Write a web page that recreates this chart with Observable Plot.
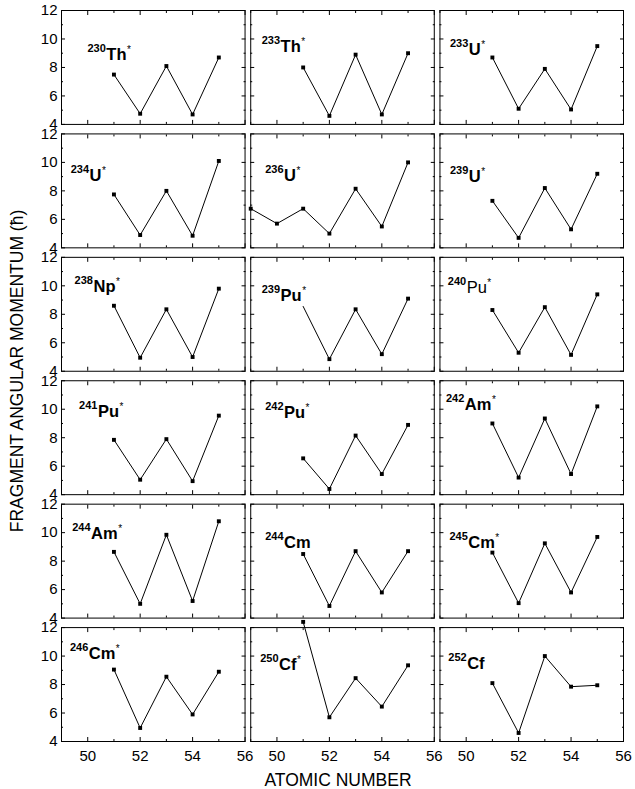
<!DOCTYPE html>
<html>
<head>
<meta charset="utf-8">
<script src="https://cdn.jsdelivr.net/npm/d3@7"></script>
<script src="https://cdn.jsdelivr.net/npm/@observablehq/plot@0.6"></script>
<style>
  html, body { margin: 0; padding: 0; background: #fff; }
  #chart { width: 635px; height: 789px; }
</style>
</head>
<body>
<div id="chart"></div>
<script>
// ---- data ----
const nuclideMass   = [230, 233, 233, 234, 236, 239, 238, 239, 240, 241, 242, 242, 244, 244, 245, 246, 250, 252];
const nuclideSymbol = ["Th","Th","U","U","U","U","Np","Pu","Pu","Pu","Pu","Am","Am","Cm","Cm","Cm","Cf","Cf"];
const excited       = [1,1,1,1,1,1,1,1,1,1,1,1,1,0,1,1,1,0];
const symbolBold    = [1,1,1,1,1,1,1,1,0,1,1,1,1,1,1,1,1,1];

const atomicNumbers     = [51, 52, 53, 54, 55];
const atomicNumbersU236 = [49, 50, 51, 52, 53, 54, 55];

const th230 = [7.5, 4.75, 8.1, 4.7, 8.7];
const th233 = [8.0, 4.6, 8.9, 4.7, 9.0];
const u233  = [8.7, 5.1, 7.9, 5.05, 9.5];
const u234  = [7.75, 4.9, 8.0, 4.85, 10.1];
const u236  = [6.75, 5.7, 6.75, 5.0, 8.15, 5.5, 10.0];
const u239  = [7.3, 4.7, 8.2, 5.3, 9.2];
const np238 = [8.6, 4.95, 8.35, 5.0, 9.8];
const pu239 = [8.55, 4.85, 8.35, 5.2, 9.1];
const pu240 = [8.3, 5.3, 8.5, 5.15, 9.4];
const pu241 = [7.85, 5.05, 7.9, 4.95, 9.55];
const pu242 = [6.55, 4.4, 8.15, 5.45, 8.9];
const am242 = [9.0, 5.2, 9.35, 5.45, 10.2];
const am244 = [8.65, 5.0, 9.85, 5.2, 10.8];
const cm244 = [8.5, 4.85, 8.7, 5.8, 8.7];
const cm245 = [8.6, 5.05, 9.25, 5.8, 9.7];
const cm246 = [9.05, 4.95, 8.55, 5.9, 8.9];
const cf250 = [12.4, 5.7, 8.45, 6.45, 9.35];
const cf252 = [8.1, 4.6, 10.0, 7.85, 7.95];

const panelValues = [th230, th233, u233, u234, u236, u239, np238, pu239, pu240,
                     pu241, pu242, am242, am244, cm244, cm245, cm246, cf250, cf252];
const panelZ = panelValues.map((v, i) => i === 4 ? atomicNumbersU236 : atomicNumbers);

// points drawn without a marker (panel index, atomic number)
const unmarked = [[7, 51]];

// label anchor (atomic number, momentum) in each panel
const labelZ = [49.99, 49.42, 49.38, 49.35, 49.55, 49.38, 49.5, 49.42, 49.3, 49.67, 49.55, 49.23, 49.41, 49.55, 49.36, 49.32, 49.36, 49.32];
const labelJ = [8.84, 9.43, 9.19, 9.05, 9.0, 8.93, 9.87, 9.28, 9.85, 9.82, 9.73, 10.25, 9.87, 9.28, 9.28, 10.15, 9.33, 9.45];

const yMajor = [4, 6, 8, 10, 12];
const yMinor = [5, 7, 9, 11];
const xMajor = [50, 52, 54, 56];
const xMinor = [49, 51, 53, 55];

// ---- tables ----
const points = [];
panelValues.forEach((vals, p) => {
  vals.forEach((v, k) => {
    const z = panelZ[p][k];
    points.push({panel: p, col: p % 3, row: Math.floor(p / 3), z, j: v,
                 marked: !unmarked.some(([pp, zz]) => pp === p && zz === z)});
  });
});
const labels = nuclideMass.map((m, p) => ({
  col: p % 3, row: Math.floor(p / 3), x: labelZ[p], y: labelJ[p],
  text: `${m}|${nuclideSymbol[p]}|${excited[p] ? "*" : ""}|${symbolBold[p]}`
}));

const tickStyle = {stroke: "black", fill: "none", facetAnchor: null};

const svg = Plot.plot({
  width: 635,
  height: 789,
  marginTop: 10,
  marginRight: 12,
  marginBottom: 48,
  marginLeft: 61,
  facet: {marginTop: 0, marginRight: 0, marginBottom: 0, marginLeft: 0},
  style: {fontFamily: "'Liberation Sans', Arial, sans-serif", fontSize: "15px", color: "black", background: "white", overflow: "visible"},
  x: {domain: [49, 56], axis: null},
  y: {domain: [4, 12], axis: null},
  fx: {domain: [0, 1, 2], paddingInner: 0.03, paddingOuter: 0, round: false, axis: null},
  fy: {domain: [0, 1, 2, 3, 4, 5], paddingInner: 0.077, paddingOuter: 0, round: false, axis: null},
  marks: [
    Plot.frame({stroke: "black", strokeWidth: 1}),
    // inward ticks on all four sides
    Plot.axisY({anchor: "left", ticks: yMajor, tickSize: 4, dx: 4, ...tickStyle}),
    Plot.axisY({anchor: "left", ticks: yMinor, tickSize: 2, dx: 2, ...tickStyle}),
    Plot.axisY({anchor: "right", ticks: yMajor, tickSize: 4, dx: -4, ...tickStyle}),
    Plot.axisY({anchor: "right", ticks: yMinor, tickSize: 2, dx: -2, ...tickStyle}),
    Plot.axisX({anchor: "bottom", ticks: xMajor, tickSize: 4, dy: -4, ...tickStyle}),
    Plot.axisX({anchor: "bottom", ticks: xMinor, tickSize: 2, dy: -2, ...tickStyle}),
    Plot.axisX({anchor: "top", ticks: xMajor, tickSize: 4, dy: 4, ...tickStyle}),
    Plot.axisX({anchor: "top", ticks: xMinor, tickSize: 2, dy: 2, ...tickStyle}),
    // tick labels on outer panels
    Plot.axisY({anchor: "left", ticks: yMajor, tickSize: 0, tickPadding: 4, fontSize: 15, tickFormat: d3.format("d"), label: null}),
    Plot.axisX({anchor: "bottom", ticks: xMajor, tickSize: 0, tickPadding: 9, fontSize: 15, tickFormat: d3.format("d"), label: null}),
    // data
    Plot.line(points, {x: "z", y: "j", fx: "col", fy: "row", z: "panel", stroke: "black", strokeWidth: 1}),
    Plot.dot(points.filter(d => d.marked), {x: "z", y: "j", fx: "col", fy: "row", symbol: "square", r: 2.2, fill: "black", stroke: "none"}),
    Plot.text(labels, {x: "x", y: "y", fx: "col", fy: "row", text: "text", textAnchor: "start", fill: "black"})
  ]
});

document.getElementById("chart").appendChild(svg);

// rich nuclide labels: superscript mass number, symbol, superscript star
d3.select(svg).selectAll("text")
  .filter(function () { return this.textContent.includes("|"); })
  .each(function () {
    const [mass, sym, star, bold] = this.textContent.split("|");
    const t = d3.select(this);
    t.attr("dy", null).text(null);
    t.append("tspan").attr("font-size", 11).attr("font-weight", "bold").attr("dy", -8).text(mass);
    t.append("tspan").attr("font-size", 16.5).attr("font-weight", bold === "1" ? "bold" : "normal")
      .attr("dy", 8).attr("dx", 0.5).text(sym);
    if (star) t.append("tspan").attr("font-size", 10).attr("dy", -7).attr("dx", 0.5).text("*");
  });

// axis titles
const s = d3.select(svg);
s.append("text").attr("x", 338).attr("y", 786).attr("text-anchor", "middle")
  .attr("font-size", 17.5).attr("fill", "black").text("ATOMIC NUMBER");
s.append("text").attr("transform", "translate(23,371) rotate(-90)").attr("text-anchor", "middle")
  .attr("font-size", 17.5).attr("fill", "black").text("FRAGMENT ANGULAR MOMENTUM (ħ)");
</script>
</body>
</html>
